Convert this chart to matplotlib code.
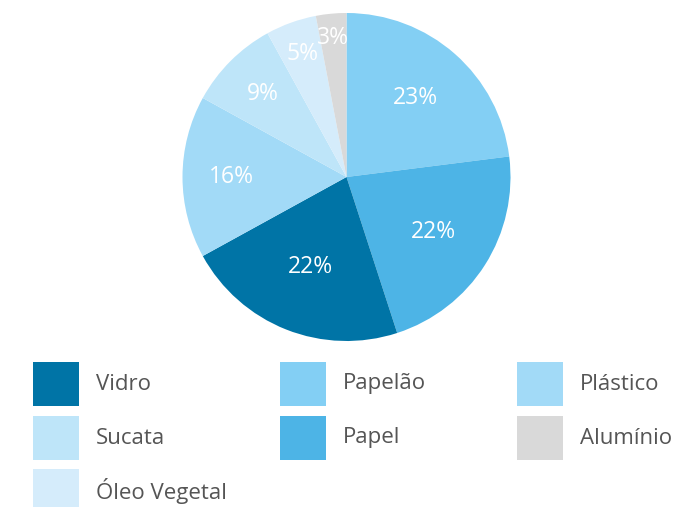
import matplotlib.pyplot as plt
from matplotlib.patches import Rectangle

plt.rcParams['font.family'] = ['Open Sans', 'DejaVu Sans']

# fatias no sentido horario a partir do topo
labels = ['Papelão', 'Papel', 'Vidro', 'Plástico', 'Sucata', 'Óleo Vegetal', 'Alumínio']
values = [23, 22, 22, 16, 9, 5, 3]
colors = ['#83cff4', '#4db4e6', '#0074a6', '#a2daf7', '#bee5f9', '#d5ecfb', '#d9d9d9']

# ordem da legenda (3 colunas, por linha)
legend_order = ['Vidro', 'Papelão', 'Plástico', 'Sucata', 'Papel', 'Alumínio', 'Óleo Vegetal']

W, H = 679, 507
fig = plt.figure(figsize=(W / 100, H / 100), dpi=100)

# pizza: centro (346.5, 177) px, raio 164 px
cx, cy, r = 346.5, 177, 164
ax = fig.add_axes([(cx - r) / W, (H - cy - r) / H, 2 * r / W, 2 * r / H])
wedges, texts, autotexts = ax.pie(values, colors=colors, startangle=90, counterclock=False,
                                  autopct='%d%%', pctdistance=0.63,
                                  wedgeprops=dict(linewidth=0),
                                  textprops=dict(color='white', fontsize=16.5))
# rotulos das fatias pequenas mais para fora
label_dist = [0.64, 0.63, 0.59, 0.70, 0.72, 0.80, 0.85]
for t, d in zip(autotexts, label_dist):
    x, y = t.get_position()
    k = d / 0.63
    t.set_position((x * k, y * k))
ax.set_xlim(-1, 1)
ax.set_ylim(-1, 1)
ax.set_aspect('equal')
ax.axis('off')

# legenda desenhada em coordenadas de pixel
lax = fig.add_axes([0, 0, 1, 1])
lax.set_xlim(0, W)
lax.set_ylim(H, 0)
lax.axis('off')
col_x = [33, 280, 517]
row_y = [362, 416, 469]
color_of = dict(zip(labels, colors))
for i, name in enumerate(legend_order):
    x0 = col_x[i % 3]
    y0 = row_y[i // 3]
    lax.add_patch(Rectangle((x0, y0), 46, 44, facecolor=color_of[name], edgecolor='none'))
    lax.text(x0 + 63, y0 + 22, name, fontsize=16, color='#555555', va='center', ha='left')

fig.savefig('out.png', dpi=100)
